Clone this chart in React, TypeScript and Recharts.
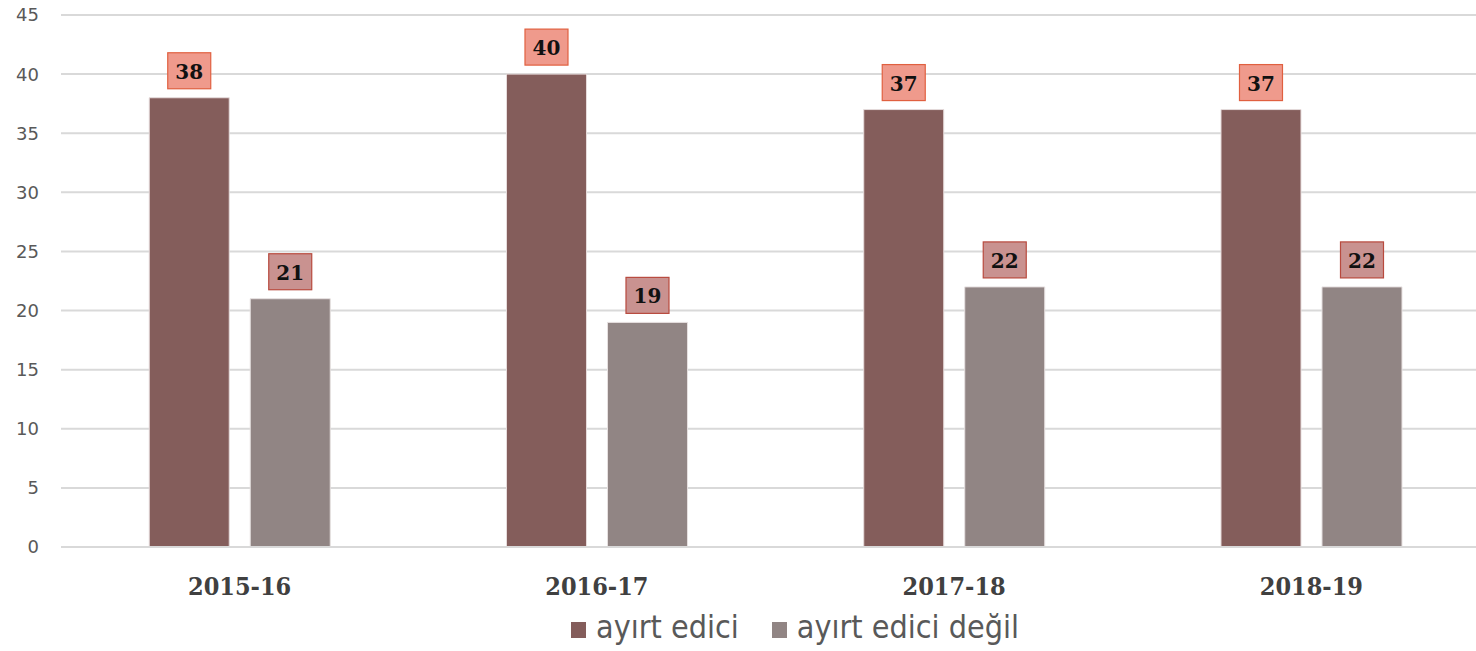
import React from 'react';
import { BarChart, Bar, XAxis, YAxis, CartesianGrid, Legend } from 'recharts';

const categories = ['2015-16', '2016-17', '2017-18', '2018-19'];
const ayirtEdici = [38, 40, 37, 37];
const ayirtEdiciDegil = [21, 19, 22, 22];
const yTicks = [0, 5, 10, 15, 20, 25, 30, 35, 40, 45];
const seriesNames = ['ayırt edici', 'ayırt edici değil'];

const data = categories.map((c, i) => ({ cat: c, a: ayirtEdici[i], b: ayirtEdiciDegil[i] }));

const COL_A = '#845D5B';
const COL_B = '#918584';

const makeLabel = (fill: string, stroke: string) => (props: any) => {
  const { x, y, width, value } = props;
  const cx = x + width / 2;
  const w = 43;
  const h = 36;
  const bottom = y - 9;
  return (
    <g>
      <rect x={cx - w / 2} y={bottom - h} width={w} height={h} fill={fill} stroke={stroke} strokeWidth={1.2} />
      <text x={cx} y={bottom - h / 2 + 1} textAnchor="middle" dominantBaseline="central"
        fontFamily="'DejaVu Serif', serif" fontWeight="bold" fontSize={20} fill="#111">
        {value}
      </text>
    </g>
  );
};

const renderLegend = () => (
  <div style={{ display: 'flex', justifyContent: 'center', alignItems: 'center', gap: 33, paddingLeft: 100, marginTop: 1,
    fontFamily: "'DejaVu Sans Condensed', 'DejaVu Sans', sans-serif", fontStretch: 'condensed', fontSize: 32, color: '#595959' }}>
    {seriesNames.map((n, i) => (
      <div key={n} style={{ display: 'flex', alignItems: 'center' }}>
        <div style={{ width: 15, height: 16, background: i === 0 ? COL_A : COL_B, marginRight: 10, marginTop: 6 }} />
        <span>{n}</span>
      </div>
    ))}
  </div>
);

export default function App() {
  return (
    <div style={{ position: 'absolute', left: 0, top: 0, background: '#fff', width: 1476, height: 651, overflow: 'hidden' }}>
      <BarChart width={1476} height={651} data={data} margin={{ top: 15, right: -14, left: 0, bottom: 0 }}
        barCategoryGap="24.7%" barGap={21}>
        <CartesianGrid vertical={false} stroke="#d9d9d9" strokeWidth={2} />
        <XAxis dataKey="cat" height={60} tickLine={false} axisLine={{ stroke: '#d9d9d9', strokeWidth: 2 }}
          tickMargin={24}
          tick={{ fontFamily: "'DejaVu Serif', serif", fontStretch: 'condensed', fontWeight: 'bold', fontSize: 25, fill: '#404040' }} />
        <YAxis domain={[0, 45]} ticks={yTicks} width={61} tickLine={false} axisLine={false} tickSize={0} tickMargin={22}
          interval={0}
          tick={{ fontFamily: "'DejaVu Sans', sans-serif", fontSize: 18, fill: '#595959' }} />
        <Legend verticalAlign="bottom" height={44} content={renderLegend} />
        <Bar dataKey="a" name={seriesNames[0]} fill={COL_A} stroke="#e6dcdc" strokeWidth={1} isAnimationActive={false}
          label={makeLabel('#EF9A8C', '#E06040')} />
        <Bar dataKey="b" name={seriesNames[1]} fill={COL_B} stroke="#e6e0e0" strokeWidth={1} isAnimationActive={false}
          label={makeLabel('#C99290', '#B84A3E')} />
      </BarChart>
    </div>
  );
}
